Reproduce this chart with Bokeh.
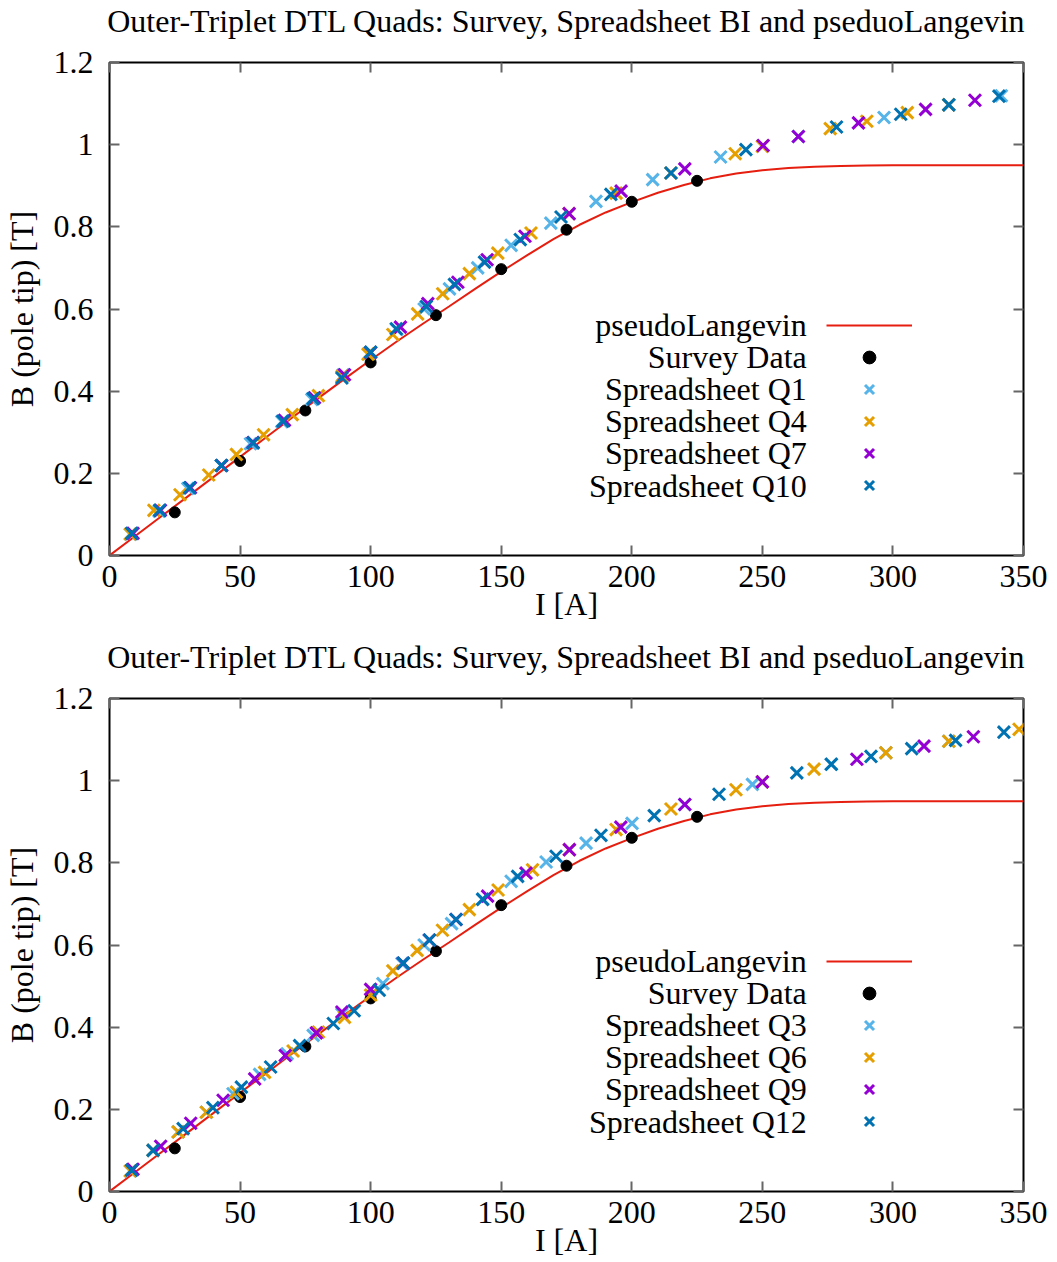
from bokeh.plotting import figure
from bokeh.models import Range1d, FixedTicker, LinearAxis, Legend, LegendItem, Label
from bokeh.layouts import column
from bokeh.embed import file_html
from bokeh.resources import INLINE

FONT = "Liberation Serif"
FS = "32px"
TITLE = "Outer-Triplet DTL Quads: Survey, Spreadsheet BI and pseduoLangevin"
X_LABEL = "I [A]"
Y_LABEL = "B (pole tip) [T]"

x_ticks = [0, 50, 100, 150, 200, 250, 300, 350]
x_tick_labels = ["0", "50", "100", "150", "200", "250", "300", "350"]
y_ticks = [0, 0.2, 0.4, 0.6, 0.8, 1.0, 1.2]
y_tick_labels = ["0", "0.2", "0.4", "0.6", "0.8", "1", "1.2"]

# pseudoLangevin fit curve
curve_I = [0, 10, 20, 30, 40, 50, 60, 70, 80, 90, 100, 110, 120, 130, 140, 150, 160, 170,
           180, 190, 200, 210, 220, 230, 240, 250, 260, 270, 280, 290, 300, 325, 350]
curve_B = [0.000, 0.048, 0.096, 0.144, 0.192, 0.240, 0.288, 0.336, 0.383, 0.430, 0.476,
           0.521, 0.564, 0.606, 0.649, 0.691, 0.731, 0.770, 0.805, 0.835, 0.860, 0.883,
           0.902, 0.918, 0.930, 0.938, 0.943, 0.946, 0.948, 0.949, 0.950, 0.950, 0.950]

survey_I = [25, 50, 75, 100, 125, 150, 175, 200, 225]
survey_B = [0.105, 0.230, 0.353, 0.470, 0.585, 0.697, 0.793, 0.861, 0.912]

# ---- top panel spreadsheet series ----
q1_I = [8, 19, 30, 42.8, 54, 66, 77.5, 89.5, 99.5, 110, 120.5, 130.2, 141, 153.8, 169,
        186.3, 208, 234, 263.8, 296.6, 321.4, 341.5]
q1_B = [0.052, 0.108, 0.163, 0.219, 0.272, 0.326, 0.380, 0.440, 0.492, 0.550, 0.600,
        0.649, 0.700, 0.755, 0.809, 0.862, 0.915, 0.970, 1.020, 1.066, 1.097, 1.119]

q4_I = [8, 17, 27, 38, 48.6, 59, 70, 80, 89, 99, 108.5, 118, 127.6, 137.8, 148.7, 161.4,
        176, 194, 215, 239.6, 250, 276, 290, 305.5, 321.4]
q4_B = [0.052, 0.110, 0.148, 0.196, 0.246, 0.294, 0.343, 0.389, 0.436, 0.490, 0.538,
        0.588, 0.637, 0.686, 0.736, 0.785, 0.832, 0.882, 0.931, 0.978, 0.996, 1.039,
        1.057, 1.078, 1.097]

q7_I = [9, 19.5, 31, 43, 55, 67, 78.5, 90, 100, 111.4, 121.9, 133.4, 144.6, 159.1, 176,
        195.9, 220.3, 250.3, 263.8, 286.8, 312.5, 331.4]
q7_B = [0.054, 0.110, 0.165, 0.219, 0.275, 0.329, 0.384, 0.440, 0.494, 0.556, 0.613,
        0.665, 0.720, 0.777, 0.832, 0.887, 0.941, 0.998, 1.020, 1.053, 1.086, 1.108]

q10_I = [8.5, 19.2, 30.7, 42.8, 55, 66.4, 78, 89, 100, 109.8, 121.3, 132.1, 143.6, 157.3,
         172.9, 192, 215, 243.7, 278.4, 303, 321.4, 340.6]
q10_B = [0.054, 0.110, 0.165, 0.219, 0.274, 0.327, 0.382, 0.432, 0.495, 0.552, 0.606,
         0.660, 0.714, 0.769, 0.824, 0.879, 0.931, 0.988, 1.043, 1.074, 1.097, 1.118]

# ---- bottom panel spreadsheet series ----
q3_I = [8, 16.7, 26.3, 37.1, 47.3, 57.5, 68, 78, 89, 104.7, 112, 120.5, 131, 142.9, 153.8,
        167.2, 182.5, 200.1, 220.3, 246.2, 276.4, 297.3, 321.4]
q3_B = [0.050, 0.100, 0.145, 0.193, 0.238, 0.285, 0.335, 0.380, 0.432, 0.506, 0.555,
        0.600, 0.652, 0.712, 0.755, 0.802, 0.848, 0.896, 0.942, 0.991, 1.040, 1.068, 1.096]

q6_I = [8, 16.7, 26.3, 37.1, 48.6, 59.4, 70.3, 80, 90, 100, 108.5, 117.8, 127.5, 137.8,
        148.8, 162, 176.1, 194, 215, 239.9, 250, 269.8, 297.3, 321.4, 348.3]
q6_B = [0.050, 0.100, 0.145, 0.193, 0.242, 0.290, 0.342, 0.388, 0.424, 0.478, 0.537,
        0.587, 0.636, 0.686, 0.734, 0.783, 0.832, 0.881, 0.931, 0.978, 0.997, 1.028,
        1.068, 1.096, 1.125]

q9_I = [9, 19.6, 31.1, 43.5, 55.6, 67.3, 79.2, 89, 100, 112.5, 122.5, 132.7, 144.8, 159.5,
        176.1, 195.8, 220.3, 250, 286.2, 311.9, 330.8]
q9_B = [0.054, 0.110, 0.166, 0.222, 0.274, 0.331, 0.386, 0.437, 0.492, 0.556, 0.612,
        0.662, 0.719, 0.775, 0.832, 0.887, 0.942, 0.997, 1.052, 1.084, 1.107]

q12_I = [8.5, 16.7, 28.2, 39.6, 50.5, 61.7, 72.8, 85.7, 93.7, 103.3, 112.5, 122.5, 132.7,
         142.9, 156.3, 171, 188.2, 208.6, 233.4, 263.2, 276.4, 291.6, 307.2, 324, 342.5]
q12_B = [0.052, 0.100, 0.153, 0.204, 0.254, 0.303, 0.355, 0.409, 0.440, 0.490, 0.556,
         0.612, 0.662, 0.711, 0.767, 0.816, 0.867, 0.915, 0.967, 1.019, 1.040, 1.059,
         1.078, 1.098, 1.118]

C_LIGHT = "#56b4e9"
C_ORANGE = "#e69f00"
C_PURPLE = "#9400d3"
C_BLUE = "#0072b2"
C_RED = "#e51e10"

top_series = [("Spreadsheet Q1", q1_I, q1_B, C_LIGHT),
              ("Spreadsheet Q4", q4_I, q4_B, C_ORANGE),
              ("Spreadsheet Q7", q7_I, q7_B, C_PURPLE),
              ("Spreadsheet Q10", q10_I, q10_B, C_BLUE)]
bottom_series = [("Spreadsheet Q3", q3_I, q3_B, C_LIGHT),
                 ("Spreadsheet Q6", q6_I, q6_B, C_ORANGE),
                 ("Spreadsheet Q9", q9_I, q9_B, C_PURPLE),
                 ("Spreadsheet Q12", q12_I, q12_B, C_BLUE)]

W = 1057
TITLE_H = 41
X_MIN, X_MAX = 0, 350
Y_MIN, Y_MAX = 0, 1.2
FRAME_H = 493
PX_PER_T = FRAME_H / (Y_MAX - Y_MIN)


def title_strip():
    t = figure(width=W, height=TITLE_H, x_range=Range1d(X_MIN, X_MAX), y_range=Range1d(0, 1),
               output_backend="svg", toolbar_location=None,
               x_axis_type=None, y_axis_type=None,
               min_border_left=108, min_border_right=34, min_border_top=0,
               min_border_bottom=0)
    t.title.text = TITLE
    t.title.align = "center"
    t.title.text_font = FONT
    t.title.text_font_size = FS
    t.title.text_font_style = "normal"
    t.title.text_color = "black"
    t.title.standoff = 0
    t.grid.visible = False
    t.outline_line_color = None
    t.background_fill_color = "white"
    t.border_fill_color = "white"
    return t


def style_axis(ax, labels=True):
    ax.major_tick_in = 10
    ax.major_tick_out = 0
    ax.minor_tick_in = 0
    ax.minor_tick_out = 0
    ax.major_tick_line_color = "#666666"
    ax.major_tick_line_width = 2
    ax.axis_line_color = None
    ax.major_label_text_font = FONT
    ax.major_label_text_color = "black"
    if labels:
        ax.major_label_text_font_size = FS
    else:
        ax.major_label_text_font_size = "1px"
        ax.major_label_text_alpha = 0
        ax.major_label_standoff = 0


def make_panel(height, bottom_border, series):
    p = figure(width=W, height=height, x_range=Range1d(X_MIN, X_MAX),
               y_range=Range1d(Y_MIN, Y_MAX),
               output_backend="svg", toolbar_location=None,
               min_border_left=108, min_border_right=34, min_border_top=62 - TITLE_H,
               min_border_bottom=bottom_border)
    p.grid.visible = False
    p.outline_line_color = "black"
    p.outline_line_width = 2
    p.background_fill_color = "white"
    p.border_fill_color = "white"

    p.xaxis.ticker = FixedTicker(ticks=x_ticks)
    p.yaxis.ticker = FixedTicker(ticks=y_ticks)
    p.xaxis.major_label_overrides = dict(zip(x_ticks, x_tick_labels))
    p.yaxis.major_label_overrides = dict(zip(y_ticks, y_tick_labels))
    for ax in p.xaxis + p.yaxis:
        style_axis(ax)
    p.xaxis.major_label_standoff = 10
    p.yaxis.major_label_standoff = 16
    p.xaxis.axis_label = X_LABEL
    p.yaxis.axis_label = Y_LABEL
    for ax in p.xaxis + p.yaxis:
        ax.axis_label_text_font = FONT
        ax.axis_label_text_font_size = FS
        ax.axis_label_text_font_style = "normal"
        ax.axis_label_text_color = "black"
    p.xaxis.axis_label_standoff = -4
    p.yaxis.axis_label_standoff = 11

    top_ax = LinearAxis(ticker=FixedTicker(ticks=x_ticks),
                        major_label_overrides={t: "" for t in x_ticks})
    right_ax = LinearAxis(ticker=FixedTicker(ticks=y_ticks),
                          major_label_overrides={t: "" for t in y_ticks})
    style_axis(top_ax, labels=False)
    style_axis(right_ax, labels=False)
    p.add_layout(top_ax, "above")
    p.add_layout(right_ax, "right")

    items = []
    r_curve = p.line(curve_I, curve_B, line_color=C_RED, line_width=2)
    items.append(("pseudoLangevin", r_curve))
    r_survey = p.scatter(survey_I, survey_B, marker="circle", size=11,
                         fill_color="black", line_color="black")
    items.append(("Survey Data", r_survey))
    for name, xs, ys, col in series:
        r = p.scatter(xs, ys, marker="x", size=17, line_color=col, line_width=3)
        items.append((name, r))

    legend = Legend(items=[LegendItem(label=" ", renderers=[r]) for _, r in items],
                    location=(717, 54), orientation="vertical",
                    glyph_width=86, glyph_height=32, label_height=32, label_width=0,
                    label_standoff=0, spacing=0, padding=0, margin=0,
                    label_text_font_size="1px", border_line_color=None,
                    background_fill_alpha=0)
    p.add_layout(legend, "center")

    # gnuplot-style right-aligned key labels
    row_px = 32.2
    for k, (name, _) in enumerate(items):
        yc = Y_MAX - (262 + k * row_px) / PX_PER_T
        p.add_layout(Label(x=267, y=yc, text=name, text_align="right",
                           text_baseline="middle", text_font=FONT, text_font_size=FS,
                           text_color="black"))
    return p


p1 = make_panel(636 - TITLE_H, 81, top_series)
p2 = make_panel(626 - TITLE_H, 71, bottom_series)
layout = column(title_strip(), p1, title_strip(), p2, spacing=0)

open("out.html", "w").write(file_html(layout, INLINE))
